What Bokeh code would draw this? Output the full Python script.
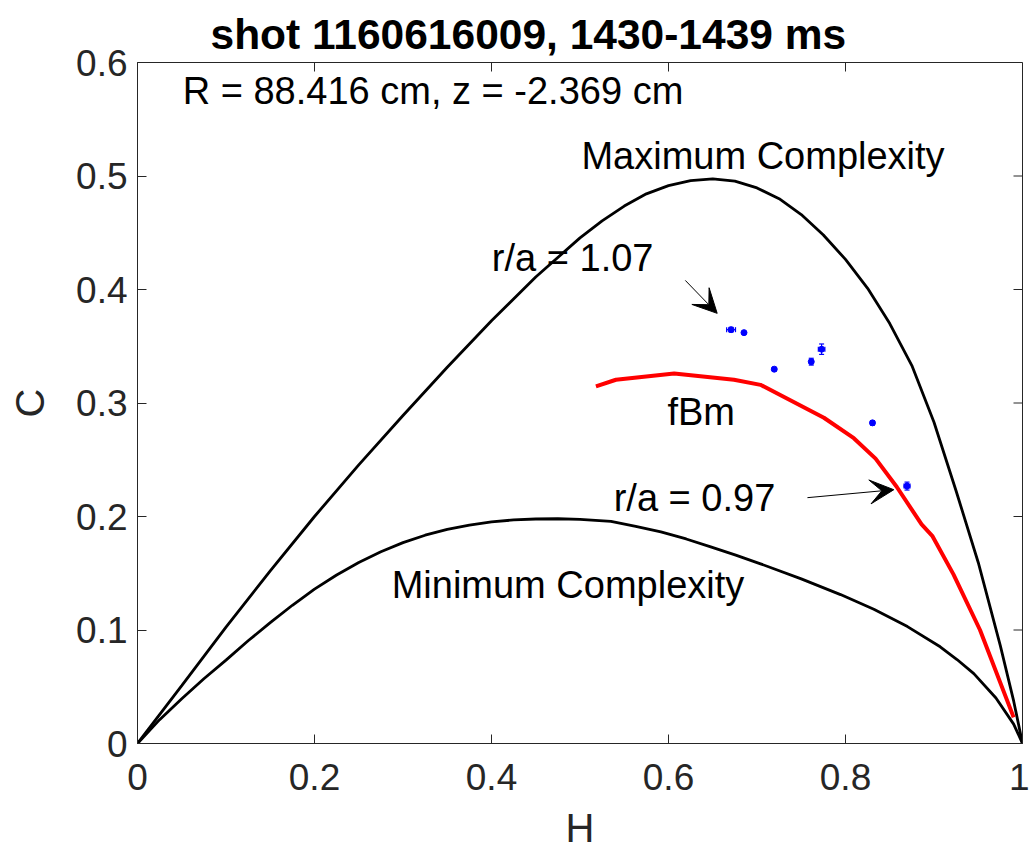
from bokeh.plotting import figure
from bokeh.models import (Range1d, Label, Arrow, VeeHead, Whisker,
                          ColumnDataSource, FixedTicker, TeeHead)
from bokeh.embed import file_html
from bokeh.resources import INLINE

# ---- data ----
max_H = [0.0, 0.05, 0.10, 0.15, 0.20, 0.25, 0.30, 0.35, 0.40, 0.45, 0.50, 0.525,
         0.55, 0.575, 0.60, 0.625, 0.65, 0.675, 0.70, 0.725, 0.75, 0.775, 0.80,
         0.825, 0.85, 0.875, 0.90, 0.925, 0.95, 0.975, 0.99, 1.0]
max_C = [0.0, 0.051, 0.1025, 0.152, 0.200, 0.2455, 0.289, 0.3315, 0.3725, 0.411,
         0.4455, 0.4605, 0.4735, 0.4843, 0.4915, 0.4960, 0.4975, 0.4955, 0.4895,
         0.4800, 0.4660, 0.4480, 0.4265, 0.4010, 0.3700, 0.3330, 0.2830, 0.2225,
         0.1595, 0.0860, 0.0375, 0.0]

min_H = [0.0, 0.025, 0.05, 0.075, 0.10, 0.125, 0.15, 0.175, 0.20, 0.225, 0.25,
         0.275, 0.30, 0.325, 0.35, 0.375, 0.40, 0.425, 0.45, 0.475, 0.50, 0.535,
         0.563, 0.5914, 0.62, 0.6477, 0.676, 0.704, 0.75, 0.7944, 0.832, 0.87,
         0.907, 0.926, 0.945, 0.97, 0.99, 1.0]
min_C = [0.0, 0.021, 0.0395, 0.057, 0.0735, 0.0905, 0.1065, 0.1218, 0.1360,
         0.1485, 0.1595, 0.1690, 0.1770, 0.1835, 0.1887, 0.1925, 0.1952, 0.1970,
         0.1978, 0.1980, 0.1975, 0.1957, 0.1913, 0.1864, 0.1802, 0.1732, 0.1660,
         0.1583, 0.1450, 0.1312, 0.1182, 0.1030, 0.0852, 0.0740, 0.0616, 0.0401,
         0.0171, 0.0]

fbm_H = [0.518, 0.5406, 0.6064, 0.674, 0.704, 0.7756, 0.8094, 0.834, 0.858, 0.886,
         0.898, 0.922, 0.952, 0.990]
fbm_C = [0.3146, 0.3205, 0.326, 0.3205, 0.316, 0.287, 0.269, 0.251, 0.226, 0.193,
         0.183, 0.149, 0.1, 0.023]

pts_H = [0.6707, 0.6853, 0.7195, 0.7613, 0.773, 0.8305, 0.8695]
pts_C = [0.3646, 0.362, 0.3298, 0.3364, 0.3474, 0.2825, 0.2268]
pts_Herr = [0.005, 0.001, 0.002, 0.002, 0.0037, 0.001, 0.0034]
pts_Cerr = [0.002, 0.001, 0.001, 0.003, 0.0046, 0.002, 0.0035]

x_ticks = [0, 0.2, 0.4, 0.6, 0.8, 1]
x_tick_labels = ["0", "0.2", "0.4", "0.6", "0.8", "1"]
y_ticks = [0, 0.1, 0.2, 0.3, 0.4, 0.5, 0.6]
y_tick_labels = ["0", "0.1", "0.2", "0.3", "0.4", "0.5", "0.6"]

title_text = "shot 1160616009, 1430-1439 ms"
info_text = "R = 88.416 cm, z = -2.369 cm"

# annotation text: (text, H, C)
notes = [
    ("Maximum Complexity", 0.7068, 0.518),
    ("Minimum Complexity", 0.4864, 0.140),
    ("fBm", 0.637, 0.292),
    ("r/a = 1.07", 0.4917, 0.4277),
    ("r/a = 0.97", 0.6294, 0.2162),
    (info_text, 0.3339, 0.5753),
]
# arrows: (H_start, C_start, H_end, C_end)
arrows = [
    (0.619, 0.408, 0.655, 0.379),
    (0.757, 0.2166, 0.8546, 0.2236),
]

FONT = "Liberation Sans"
AX = "#262626"
FW, FH = 885, 681       # frame size in px
TICK = 9                # inward tick length in px
X0, X1, Y0, Y1 = 0, 1, 0, 0.6

p = figure(width=1029, height=855, frame_width=FW, frame_height=FH,
           output_backend="svg", toolbar_location=None,
           x_range=Range1d(X0, X1), y_range=Range1d(Y0, Y1),
           min_border_left=137, min_border_right=7, min_border_top=62,
           min_border_bottom=112, title=title_text)
p.background_fill_color = "white"
p.border_fill_color = "white"
p.outline_line_color = AX
p.outline_line_width = 1
p.grid.visible = False

p.title.align = "left"
p.title.offset = 73
p.title.text_font = FONT
p.title.text_font_size = "42.5px"
p.title.text_font_style = "bold"
p.title.text_color = "black"
p.title.standoff = 10

def style_axis(ax, ticks, labels):
    ax.ticker = FixedTicker(ticks=ticks)
    ax.major_label_overrides = {t: l for t, l in zip(ticks, labels)}
    ax.major_tick_in = TICK
    ax.major_tick_out = 0
    ax.minor_tick_line_color = None
    ax.axis_line_color = AX
    ax.major_tick_line_color = AX
    ax.major_label_text_font = FONT
    ax.major_label_text_font_size = "37px"
    ax.major_label_text_color = AX
    ax.axis_label_text_font = FONT
    ax.axis_label_text_font_size = "40px"
    ax.axis_label_text_font_style = "normal"
    ax.axis_label_text_color = AX

style_axis(p.xaxis[0], x_ticks, x_tick_labels)
style_axis(p.yaxis[0], y_ticks, y_tick_labels)
p.xaxis.axis_label = "H"
p.yaxis.axis_label = "C"
p.xaxis.major_label_standoff = 20
p.xaxis.axis_label_standoff = 13
p.yaxis.major_label_standoff = 10
p.yaxis.axis_label_standoff = 21

# inward ticks on the top and right edges of the box
dy = TICK * (Y1 - Y0) / FH
dx = TICK * (X1 - X0) / FW
p.segment(x0=x_ticks, y0=[Y1] * len(x_ticks), x1=x_ticks, y1=[Y1 - dy] * len(x_ticks),
          line_color=AX, line_width=1)
p.segment(x0=[X1] * len(y_ticks), y0=y_ticks, x1=[X1 - dx] * len(y_ticks), y1=y_ticks,
          line_color=AX, line_width=1)

p.line(max_H, max_C, line_color="black", line_width=2.8)
p.line(min_H, min_C, line_color="black", line_width=2.8)
p.line(fbm_H, fbm_C, line_color="red", line_width=4)

src = ColumnDataSource(dict(
    H=pts_H, C=pts_C,
    Hl=[h - e for h, e in zip(pts_H, pts_Herr)], Hu=[h + e for h, e in zip(pts_H, pts_Herr)],
    Cl=[c - e for c, e in zip(pts_C, pts_Cerr)], Cu=[c + e for c, e in zip(pts_C, pts_Cerr)],
))
p.add_layout(Whisker(source=src, base="H", lower="Cl", upper="Cu", dimension="height",
                     line_color="blue", line_width=1.2,
                     upper_head=TeeHead(size=5, line_color="blue", line_width=1.2),
                     lower_head=TeeHead(size=5, line_color="blue", line_width=1.2)))
p.add_layout(Whisker(source=src, base="C", lower="Hl", upper="Hu", dimension="width",
                     line_color="blue", line_width=1.2,
                     upper_head=TeeHead(size=5, line_color="blue", line_width=1.2),
                     lower_head=TeeHead(size=5, line_color="blue", line_width=1.2)))
p.scatter("H", "C", source=src, size=6, fill_color="blue", line_color="blue")

for txt, hx, cy in notes:
    p.add_layout(Label(x=hx, y=cy, text=txt, text_align="center", text_baseline="middle",
                       text_font=FONT, text_font_size="38px", text_color="black"))

for hs, cs, he, ce in arrows:
    p.add_layout(Arrow(x_start=hs, y_start=cs, x_end=he, y_end=ce, line_color="black",
                       line_width=1,
                       end=VeeHead(size=24, fill_color="black", line_color="black",
                                   line_width=1)))

open("out.html", "w").write(file_html(p, INLINE))
